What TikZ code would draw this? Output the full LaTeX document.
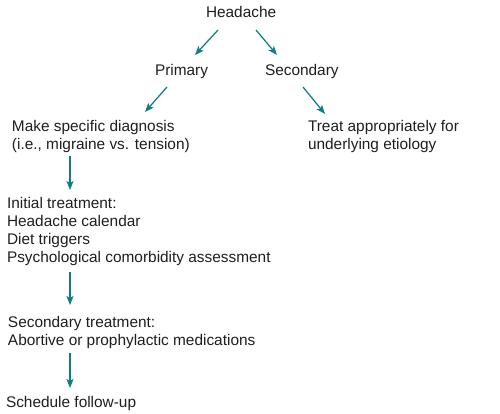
\documentclass[tikz,border=0pt]{standalone}
\usepackage{fontspec}
\setmainfont{Liberation Sans}
\usetikzlibrary{arrows.meta}
\definecolor{arrteal}{RGB}{16,125,132}
\definecolor{txt}{RGB}{30,30,30}
\tikzset{
  lbl/.style={inner sep=0pt, outer sep=0pt, text=txt, font=\fontsize{15.4}{18}\selectfont},
  blk/.style={lbl, align=left, anchor=north west},
  arr/.style={draw=arrteal, line width=1.25pt, -{Stealth[length=9pt,width=7pt,inset=2pt]}}
}
\newcommand{\fl}{\rule{0pt}{12pt}}
\begin{document}
\begin{tikzpicture}[x=1pt,y=-1pt]
\useasboundingbox (0,0) rectangle (500,414);
\node[lbl, anchor=base west] (hd) at (206,18) {Headache};
\node[lbl, anchor=base west] (pr) at (155,76) {Primary};
\node[lbl, anchor=base west] (se) at (265,76) {Secondary};
\node[blk] (mk) at (12,120) {\fl Make specific diagnosis\\(i.e., migraine vs. tension)};
\node[blk] (tr) at (308,120) {\fl Treat appropriately for\\underlying etiology};
\node[blk] (it) at (7,196) {\fl Initial treatment:\\Headache calendar\\Diet triggers\\Psychological comorbidity assessment};
\node[blk] (st) at (8,315) {\fl Secondary treatment:\\Abortive or prophylactic medications};
\node[blk] (sf) at (6,395) {\fl Schedule follow-up};
\draw[arr] ([shift={(12,12)}]hd.base west) -- ([shift={(40,-21)}]pr.base west);
\draw[arr] ([shift={(50,12)}]hd.base west) -- ([shift={(12,-21)}]se.base west);
\draw[arr] ([shift={(12,11)}]pr.base west) -- ([shift={(133,-8)}]mk.north west);
\draw[arr] ([shift={(38,11)}]se.base west) -- ([shift={(17,-6)}]tr.north west);
\draw[arr] ([shift={(58,36)}]mk.north west) -- ([shift={(63,-6)}]it.north west);
\draw[arr] ([shift={(63,76)}]it.north west) -- ([shift={(62,-10)}]st.north west);
\draw[arr] ([shift={(62,38)}]st.north west) -- ([shift={(64,-7)}]sf.north west);
\end{tikzpicture}
\end{document}
